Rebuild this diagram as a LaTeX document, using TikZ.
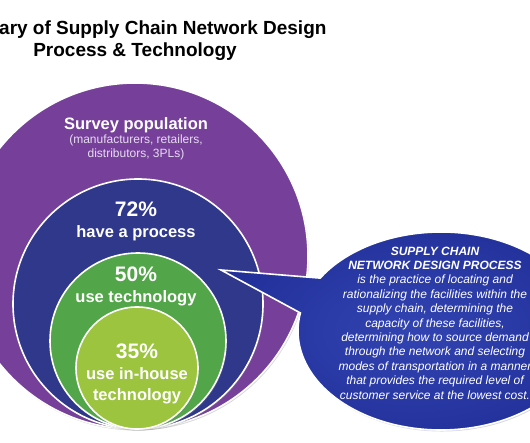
\documentclass[tikz,border=0pt]{standalone}
\usepackage{fontspec}
\setmainfont{Liberation Sans}
\usetikzlibrary{positioning,calc,shadows}
\definecolor{ringpurple}{HTML}{76409A}
\definecolor{ringblue}{HTML}{2F388A}
\definecolor{ringgreen}{HTML}{52A548}
\definecolor{ringlime}{HTML}{9CC43E}
\definecolor{calloutdark}{HTML}{22309A}
\definecolor{calloutlight}{HTML}{3244B2}
\definecolor{sublilac}{HTML}{E6DCEF}
\tikzset{
  ring/.style={draw=white, line width=1.6pt,
               drop shadow={opacity=0.3, shadow xshift=1pt, shadow yshift=-1.5pt}},
  heading/.style={font=\bfseries\fontsize{19}{22}\selectfont, text=black, inner sep=0pt},
  ringlbl/.style={font=\bfseries\fontsize{16.5}{21}\selectfont, align=center,
                  text=white, inner sep=0pt},
  sublbl/.style={font=\fontsize{12}{14}\selectfont, align=center, text=sublilac, inner sep=0pt},
  defn/.style={font=\itshape\fontsize{12}{14.4}\selectfont, align=center,
               text=white, inner sep=0pt},
}
\newcommand{\pct}[1]{{\fontsize{21}{21}\selectfont #1}}

\begin{document}
\begin{tikzpicture}[x=1pt,y=1pt]
  \useasboundingbox (0,0) rectangle (530,442);
  \clip (0,0) rectangle (530,442);
  \node[heading, anchor=west] (head) at (-1,412) {ary of Supply Chain Network Design};
  \node[heading] (subhead) at (135,390) {Process \& Technology};
  \path[ring, fill=ringpurple] (135,186) circle[radius=173];
  \path[ring, fill=ringblue] (138,138) circle[radius=125];
  \path[ring, fill=ringgreen] (138,101) circle[radius=88];
  \path[ring, fill=ringlime] (137,74) circle[radius=61];
  \node[ringlbl] (survey) at (136,317) {Survey population};
  \node[sublbl, below=2pt of survey] (members) {(manufacturers, retailers,\\distributors, 3PLs)};
  \node[ringlbl] (process) at (136,221) {\pct{72\%}\\have a process};
  \node[ringlbl] (tech) at (136,156) {\pct{50\%}\\use technology};
  \node[ringlbl] (inhouse) at (137,68) {\pct{35\%}\\use in-house\\technology};
  \coordinate (ec) at (441,111);
  \coordinate (tip) at (221,172);
  \path[ring, inner color=calloutlight, outer color=calloutdark]
    ($(ec)+(169.5:143 and 99)$) -- (tip) -- ($(ec)+(147.7:143 and 99)$)
    arc[start angle=147.7, end angle=-190.5, x radius=143, y radius=99] -- cycle;
  \node[defn] (defn) at (435,119) {\textbf{SUPPLY CHAIN}\\\textbf{NETWORK DESIGN PROCESS}\\
    is the practice of locating and\\rationalizing the facilities within the\\
    supply chain, determining the\\capacity of these facilities,\\
    determining how to source demand\\through the network and selecting\\
    modes of transportation in a manner\\that provides the required level of\\
    customer service at the lowest cost.};
\end{tikzpicture}
\end{document}
